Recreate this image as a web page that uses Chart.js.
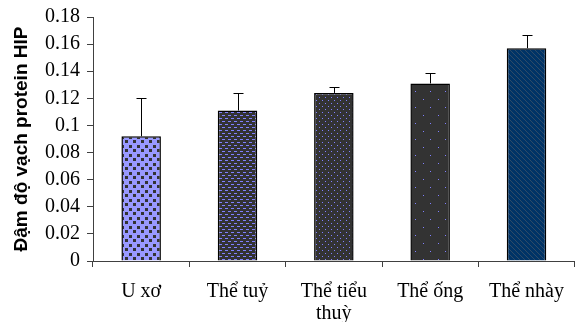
<!DOCTYPE html>
<html>
<head>
<meta charset="utf-8">
<script src="https://cdn.jsdelivr.net/npm/chart.js@4"></script>
<style>
  html, body { margin: 0; padding: 0; background: #fff; overflow: hidden; }
  #wrap { width: 575px; height: 322px; overflow: hidden; }
</style>
</head>
<body>
<div id="wrap"><canvas id="c" width="578" height="322"></canvas></div>
<script>
// dữ liệu
const categories = ['U xơ', 'Thể tuỷ', ['Thể tiểu', 'thuỳ'], 'Thể ống', 'Thể nhày'];
const values = [0.092, 0.111, 0.124, 0.131, 0.157];
const errors = [0.028, 0.013, 0.0045, 0.008, 0.0095];
const yTicks = [0, 0.02, 0.04, 0.06, 0.08, 0.1, 0.12, 0.14, 0.16, 0.18];

// mẫu tô cho từng cột
function makePattern(w, h, bg, draw) {
  const cv = document.createElement('canvas');
  cv.width = w; cv.height = h;
  const g = cv.getContext('2d');
  g.fillStyle = bg;
  g.fillRect(0, 0, w, h);
  draw(g);
  return g.createPattern(cv, 'repeat');
}

const ctx2d = document.getElementById('c').getContext('2d');
const patterns = [
  makePattern(8, 9, '#9999ff', g => {
    g.fillStyle = '#333333';
    g.fillRect(1, 1, 3, 3);
    g.fillRect(5, 5, 3, 3);
  }),
  makePattern(6, 6, '#333333', g => {
    g.fillStyle = '#8080ff';
    g.fillRect(0, 1, 3, 1);
    g.fillRect(3, 4, 3, 1);
  }),
  makePattern(6, 6, '#333333', g => {
    g.fillStyle = '#8080ff';
    g.fillRect(1, 1, 1, 1);
    g.fillRect(4, 4, 1, 1);
  }),
  makePattern(15, 16, '#333333', g => {
    g.fillStyle = '#8080ff';
    g.fillRect(3, 3, 1, 1);
    g.fillRect(10, 11, 1, 1);
  }),
  makePattern(5, 5, '#003366', g => {
    g.strokeStyle = '#2e4a66';
    g.lineWidth = 1;
    g.beginPath();
    g.moveTo(-1, -1); g.lineTo(6, 6);
    g.stroke();
  })
];

// vẽ thanh sai số (chỉ phía trên)
const errorBars = {
  id: 'errorBars',
  afterDatasetsDraw(chart) {
    const meta = chart.getDatasetMeta(0);
    const y = chart.scales.y;
    const c = chart.ctx;
    c.save();
    c.strokeStyle = '#000';
    c.lineWidth = 1;
    meta.data.forEach((bar, i) => {
      const top = Math.round(y.getPixelForValue(values[i] + errors[i])) + 0.5;
      const x = Math.round(bar.x) + 0.5;
      c.beginPath();
      c.moveTo(x, bar.y);
      c.lineTo(x, top);
      c.moveTo(x - 5, top);
      c.lineTo(x + 5, top);
      c.stroke();
    });
    c.restore();
  }
};

new Chart(ctx2d, {
  type: 'bar',
  data: {
    labels: categories,
    datasets: [{
      data: values,
      backgroundColor: patterns,
      borderColor: '#000',
      borderWidth: 1.5,
      barPercentage: 0.41,
      categoryPercentage: 1
    }]
  },
  options: {
    responsive: false,
    animation: false,
    layout: { padding: { top: 17, right: 0, left: 0, bottom: 0 } },
    plugins: { legend: { display: false }, tooltip: { enabled: false } },
    scales: {
      x: {
        offset: true,
        afterFit: s => { s.height = 61; },
        grid: { offset: true, drawOnChartArea: false, drawTicks: true, tickLength: 6, color: '#404040' },
        border: { color: '#404040', width: 1 },
        ticks: { color: '#000', padding: 14, autoSkip: false, maxRotation: 0,
                 font: { family: 'Liberation Serif', size: 20, lineHeight: 1.1 } }
      },
      y: {
        min: 0, max: 0.18,
        afterFit: s => { s.width = 93; },
        afterBuildTicks: s => { s.ticks = yTicks.map(v => ({ value: v })); },
        grid: { drawOnChartArea: false, drawTicks: true, tickLength: 6, color: '#404040' },
        border: { color: '#404040', width: 1 },
        ticks: { color: '#000', padding: 7, autoSkip: false,
                 font: { family: 'Liberation Serif', size: 20, lineHeight: 1 },
                 callback: v => String(+v.toFixed(2)) },
        title: { display: true, text: 'Đậm độ vạch protein HIP', color: '#000',
                 padding: { top: 10, bottom: 0 },
                 font: { family: 'Liberation Sans', size: 19, weight: 'bold' } }
      }
    }
  },
  plugins: [errorBars]
});
</script>
</body>
</html>
